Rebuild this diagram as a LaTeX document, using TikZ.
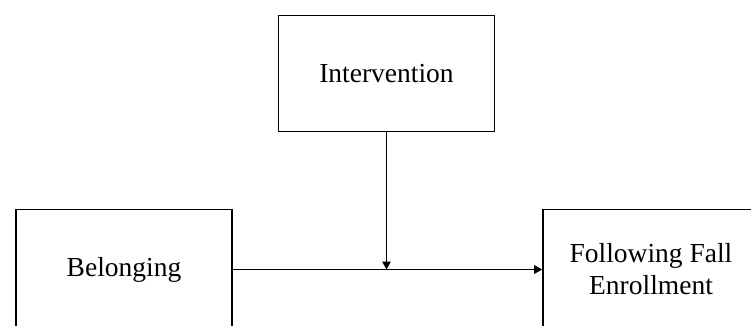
\documentclass[tikz,border=0pt]{standalone}
\usepackage{fontspec}
\setmainfont{Liberation Serif}
\usetikzlibrary{arrows.meta}
\begin{document}
\begin{tikzpicture}[x=1pt,y=-1pt,
  box/.style={draw, line width=1.6pt, minimum width=216pt, minimum height=116pt,
    inner sep=0pt, align=center, font=\fontsize{27.5}{32}\selectfont},
  arr/.style={line width=1.3pt, -{Triangle[length=8pt,width=8.5pt]}}]
\useasboundingbox (0,0) rectangle (751,325);
\clip (0,0) rectangle (751,325);
\node[box] (int) at (386.5,73.5) {Intervention};
\node[box, minimum height=120pt] (bel) at (124,269.5) {Belonging};
\node[box, minimum height=120pt] (fol) at (651,269.5) {Following Fall\\Enrollment};
\draw[arr] (bel.east) -- (fol.west);
\coordinate (m) at (int.south |- bel.east);
\draw[arr] (int.south) -- (m);
\end{tikzpicture}
\end{document}
